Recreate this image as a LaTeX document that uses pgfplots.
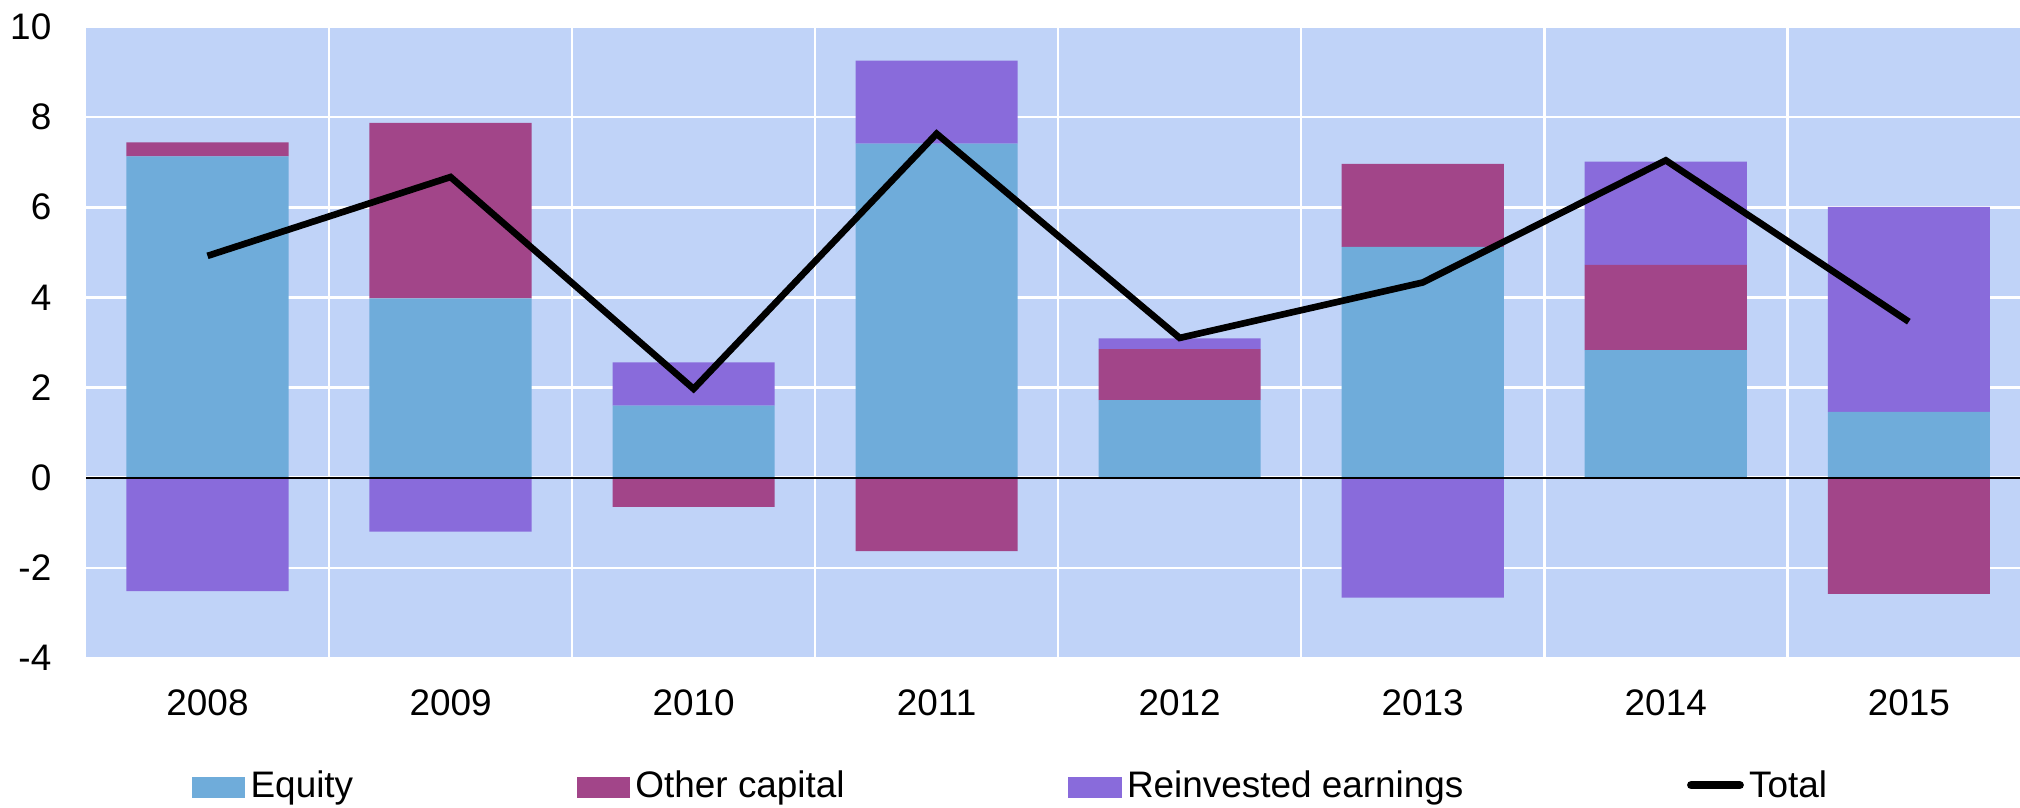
\documentclass[border=0pt]{standalone}
\usepackage{pgfplots}
\pgfplotsset{compat=1.18}
\usepackage{fontspec}
\setmainfont{Liberation Sans}
\definecolor{bgc}{RGB}{192,211,248}
\definecolor{eqc}{RGB}{111,172,218}
\definecolor{occ}{RGB}{162,69,137}
\definecolor{rec}{RGB}{137,107,219}
\begin{document}
\begin{tikzpicture}
\pgfplotsset{
  common/.style={
    at={(0,0)}, anchor=south west,
    scale only axis, width=526.9pt, height=171.0pt,
    xmin=-0.5, xmax=7.5, ymin=-4, ymax=10,
    enlargelimits=false,
  }
}
% positive stack
\begin{axis}[common,
  axis background/.style={fill=bgc},
  axis line style={draw=none},
  major tick length=0pt, minor tick length=0pt,
  xtick={0,1,2,3,4,5,6,7},
  xticklabels={2008,2009,2010,2011,2012,2013,2014,2015},
  minor xtick={0.5,1.5,2.5,3.5,4.5,5.5,6.5},
  ytick={-4,-2,0,2,4,6,8,10},
  yticklabels={-4,-2,0,2,4,6,8,10},
  ymajorgrids, xminorgrids,
  major grid style={white, line width=0.7pt},
  minor grid style={white, line width=0.7pt},
  xticklabel style={anchor=base, inner sep=0pt, yshift=-15.5pt},
  yticklabel style={anchor=east, inner sep=0pt, xshift=-9.2pt},
  ybar stacked, bar width=0.667,
]
\addplot[fill=eqc, draw=none] coordinates {(0,7.13) (1,3.98) (2,1.60) (3,7.41) (4,1.72) (5,5.12) (6,2.83) (7,1.46)};
\addplot[fill=occ, draw=none] coordinates {(0,0.31) (1,3.89) (2,0) (3,0) (4,1.13) (5,1.84) (6,1.89) (7,0)};
\addplot[fill=rec, draw=none] coordinates {(0,0) (1,0) (2,0.96) (3,1.84) (4,0.24) (5,0) (6,2.29) (7,4.55)};
\end{axis}
% negative parts, zero line, total, legend
\begin{axis}[common, hide axis,
  legend columns=4,
  legend style={draw=none, fill=none, inner sep=0pt, outer sep=0pt,
    at={(0.0545,-0.2053)}, anchor=west,
    nodes={inner sep=0pt, text height=7.3pt, text depth=2.1pt},
    /tikz/every odd column/.append style={column sep=1.4pt},
    /tikz/every even column/.append style={column sep=60.6pt},
  },
]
\addlegendimage{legend image code/.code={\fill[eqc] (0pt,-2.55pt) rectangle (14.1pt,2.55pt);}}
\addlegendentry{Equity}
\addlegendimage{legend image code/.code={\fill[occ] (0pt,-2.55pt) rectangle (14.1pt,2.55pt);}}
\addlegendentry{Other capital}
\addlegendimage{legend image code/.code={\fill[rec] (0pt,-2.55pt) rectangle (14.1pt,2.55pt);}}
\addlegendentry{Reinvested earnings}
\addplot[ybar, bar width=0.667, bar shift=0pt, fill=occ, draw=none, forget plot] coordinates {(2,-0.65) (3,-1.63) (7,-2.58)};
\addplot[ybar, bar width=0.667, bar shift=0pt, fill=rec, draw=none, forget plot] coordinates {(0,-2.52) (1,-1.20) (5,-2.66)};
\addplot[black, line width=0.55pt, mark=none, forget plot] coordinates {(-0.5,0) (7.5,0)};
\addplot[black, line width=1.8pt, mark=none, sharp plot,
  legend image code/.code={\draw[black, line width=2.2pt, line cap=round] (1.1pt,0.65pt) -- (14.3pt,0.65pt);}]
  coordinates {(0,4.92) (1,6.67) (2,1.97) (3,7.63) (4,3.10) (5,4.33) (6,7.04) (7,3.46)};
\addlegendentry{Total}
\end{axis}
\pgfresetboundingbox
\path[use as bounding box] (-23.3pt,-40.4pt) rectangle (524.1pt,178.3pt);
\end{tikzpicture}
\end{document}
